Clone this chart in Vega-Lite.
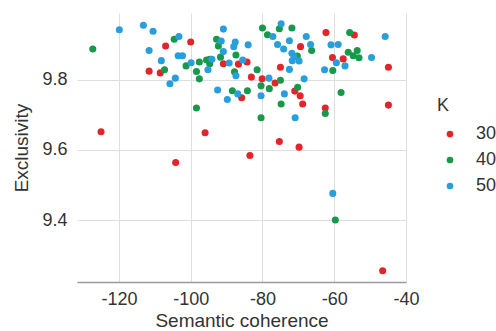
{
  "$schema": "https://vega.github.io/schema/vega-lite/v6.json",
  "width": 329,
  "height": 269,
  "autosize": {"type": "none"},
  "padding": {"left": 77, "top": 13, "right": 90, "bottom": 49},
  "background": "white",
  "config": {
    "view": {"stroke": null},
    "font": "Liberation Sans",
    "axis": {"labelColor": "#333", "titleColor": "#333", "titleFontWeight": "normal", "gridColor": "#dedede", "gridWidth": 1}
  },
  "data": {
    "values": [
      {"x": -107, "y": 9.897, "K": "30"},
      {"x": -111.6, "y": 9.825, "K": "30"},
      {"x": -108.5, "y": 9.82, "K": "30"},
      {"x": -125, "y": 9.652, "K": "30"},
      {"x": -100, "y": 9.908, "K": "30"},
      {"x": -90.9, "y": 9.846, "K": "30"},
      {"x": -86.7, "y": 9.845, "K": "30"},
      {"x": -84.3, "y": 9.851, "K": "30"},
      {"x": -83.1, "y": 9.808, "K": "30"},
      {"x": -85.8, "y": 9.749, "K": "30"},
      {"x": -96, "y": 9.649, "K": "30"},
      {"x": -62.3, "y": 9.935, "K": "30"},
      {"x": -69.4, "y": 9.895, "K": "30"},
      {"x": -60.5, "y": 9.864, "K": "30"},
      {"x": -75, "y": 9.836, "K": "30"},
      {"x": -80.1, "y": 9.803, "K": "30"},
      {"x": -76.5, "y": 9.791, "K": "30"},
      {"x": -71, "y": 9.768, "K": "30"},
      {"x": -69.5, "y": 9.755, "K": "30"},
      {"x": -68.8, "y": 9.731, "K": "30"},
      {"x": -62.5, "y": 9.72, "K": "30"},
      {"x": -54.4, "y": 9.928, "K": "30"},
      {"x": -57.5, "y": 9.86, "K": "30"},
      {"x": -44.9, "y": 9.836, "K": "30"},
      {"x": -44.9, "y": 9.728, "K": "30"},
      {"x": -104.2, "y": 9.564, "K": "30"},
      {"x": -83.5, "y": 9.584, "K": "30"},
      {"x": -75.3, "y": 9.624, "K": "30"},
      {"x": -69.8, "y": 9.608, "K": "30"},
      {"x": -46.5, "y": 9.255, "K": "30"},
      {"x": -127.3, "y": 9.888, "K": "40"},
      {"x": -104.6, "y": 9.916, "K": "40"},
      {"x": -107.3, "y": 9.829, "K": "40"},
      {"x": -92.8, "y": 9.916, "K": "40"},
      {"x": -92.3, "y": 9.897, "K": "40"},
      {"x": -91.7, "y": 9.865, "K": "40"},
      {"x": -87.4, "y": 9.871, "K": "40"},
      {"x": -95.6, "y": 9.857, "K": "40"},
      {"x": -97.6, "y": 9.851, "K": "40"},
      {"x": -94.7, "y": 9.846, "K": "40"},
      {"x": -94.7, "y": 9.859, "K": "40"},
      {"x": -101.3, "y": 9.84, "K": "40"},
      {"x": -98.4, "y": 9.824, "K": "40"},
      {"x": -87.8, "y": 9.823, "K": "40"},
      {"x": -81.5, "y": 9.829, "K": "40"},
      {"x": -97.6, "y": 9.803, "K": "40"},
      {"x": -88.4, "y": 9.769, "K": "40"},
      {"x": -84.2, "y": 9.769, "K": "40"},
      {"x": -98.4, "y": 9.72, "K": "40"},
      {"x": -80, "y": 9.948, "K": "40"},
      {"x": -75.3, "y": 9.946, "K": "40"},
      {"x": -71.8, "y": 9.948, "K": "40"},
      {"x": -78.6, "y": 9.929, "K": "40"},
      {"x": -66.3, "y": 9.884, "K": "40"},
      {"x": -70.3, "y": 9.868, "K": "40"},
      {"x": -60.4, "y": 9.827, "K": "40"},
      {"x": -75, "y": 9.799, "K": "40"},
      {"x": -80.4, "y": 9.783, "K": "40"},
      {"x": -78.1, "y": 9.775, "K": "40"},
      {"x": -70.2, "y": 9.779, "K": "40"},
      {"x": -74.8, "y": 9.731, "K": "40"},
      {"x": -62.5, "y": 9.704, "K": "40"},
      {"x": -80.4, "y": 9.692, "K": "40"},
      {"x": -55.7, "y": 9.935, "K": "40"},
      {"x": -56.1, "y": 9.879, "K": "40"},
      {"x": -53.6, "y": 9.884, "K": "40"},
      {"x": -54.7, "y": 9.869, "K": "40"},
      {"x": -53.1, "y": 9.863, "K": "40"},
      {"x": -58.1, "y": 9.764, "K": "40"},
      {"x": -59.7, "y": 9.4, "K": "40"},
      {"x": -119.9, "y": 9.943, "K": "50"},
      {"x": -113.2, "y": 9.956, "K": "50"},
      {"x": -110.5, "y": 9.939, "K": "50"},
      {"x": -103.3, "y": 9.924, "K": "50"},
      {"x": -111.6, "y": 9.884, "K": "50"},
      {"x": -108.2, "y": 9.855, "K": "50"},
      {"x": -103.5, "y": 9.869, "K": "50"},
      {"x": -102.3, "y": 9.869, "K": "50"},
      {"x": -104.3, "y": 9.805, "K": "50"},
      {"x": -105.8, "y": 9.789, "K": "50"},
      {"x": -90.9, "y": 9.945, "K": "50"},
      {"x": -91.5, "y": 9.911, "K": "50"},
      {"x": -87.6, "y": 9.908, "K": "50"},
      {"x": -88, "y": 9.895, "K": "50"},
      {"x": -84, "y": 9.9, "K": "50"},
      {"x": -90.9, "y": 9.881, "K": "50"},
      {"x": -94.1, "y": 9.859, "K": "50"},
      {"x": -99.9, "y": 9.849, "K": "50"},
      {"x": -89.3, "y": 9.848, "K": "50"},
      {"x": -85.5, "y": 9.857, "K": "50"},
      {"x": -95.2, "y": 9.829, "K": "50"},
      {"x": -87.4, "y": 9.812, "K": "50"},
      {"x": -92.5, "y": 9.771, "K": "50"},
      {"x": -89.8, "y": 9.744, "K": "50"},
      {"x": -86.9, "y": 9.76, "K": "50"},
      {"x": -74.8, "y": 9.96, "K": "50"},
      {"x": -77.1, "y": 9.924, "K": "50"},
      {"x": -67.8, "y": 9.924, "K": "50"},
      {"x": -72.5, "y": 9.912, "K": "50"},
      {"x": -75.8, "y": 9.901, "K": "50"},
      {"x": -74.1, "y": 9.888, "K": "50"},
      {"x": -66.6, "y": 9.901, "K": "50"},
      {"x": -60.9, "y": 9.9, "K": "50"},
      {"x": -71.8, "y": 9.876, "K": "50"},
      {"x": -71.2, "y": 9.866, "K": "50"},
      {"x": -71.7, "y": 9.855, "K": "50"},
      {"x": -69.8, "y": 9.854, "K": "50"},
      {"x": -72.5, "y": 9.83, "K": "50"},
      {"x": -62.7, "y": 9.829, "K": "50"},
      {"x": -78.2, "y": 9.805, "K": "50"},
      {"x": -68.4, "y": 9.803, "K": "50"},
      {"x": -80.4, "y": 9.755, "K": "50"},
      {"x": -73.9, "y": 9.76, "K": "50"},
      {"x": -70.9, "y": 9.692, "K": "50"},
      {"x": -45.8, "y": 9.924, "K": "50"},
      {"x": -58.9, "y": 9.901, "K": "50"},
      {"x": -49.6, "y": 9.864, "K": "50"},
      {"x": -59.4, "y": 9.849, "K": "50"},
      {"x": -57, "y": 9.84, "K": "50"},
      {"x": -60.4, "y": 9.476, "K": "50"}
    ]
  },
  "mark": {"type": "circle", "size": 50, "opacity": 1},
  "encoding": {
    "x": {
      "field": "x", "type": "quantitative", "title": "Semantic coherence",
      "scale": {"domain": [-131.7, -40], "nice": false, "zero": false},
      "axis": {"values": [-120, -100, -80, -60, -40], "labelExpr": "'' + datum.value", "ticks": false, "labelFontSize": 18, "titleFontSize": 19, "labelPadding": 8, "titlePadding": 3, "domainColor": "#9a9a9a", "domainWidth": 1.5, "labelFlush": false}
    },
    "y": {
      "field": "y", "type": "quantitative", "title": "Exclusivity",
      "scale": {"domain": [9.223, 9.991], "nice": false, "zero": false},
      "axis": {"values": [9.4, 9.6, 9.8], "format": ".1f", "ticks": false, "domain": false, "labelFontSize": 18, "titleFontSize": 19, "labelPadding": 10, "titlePadding": 10}
    },
    "color": {
      "field": "K", "type": "nominal", "title": "K",
      "scale": {"domain": ["30", "40", "50"], "range": ["#e3242b", "#17994b", "#289fdb"]},
      "legend": {"orient": "none", "legendX": 360, "legendY": 84, "titleFontSize": 18, "titleFontWeight": "normal", "titleColor": "#333", "labelFontSize": 18, "labelColor": "#333", "symbolSize": 45, "symbolType": "circle", "rowPadding": 8, "titlePadding": 10, "labelOffset": 17, "symbolOffset": 4}
    }
  }
}
